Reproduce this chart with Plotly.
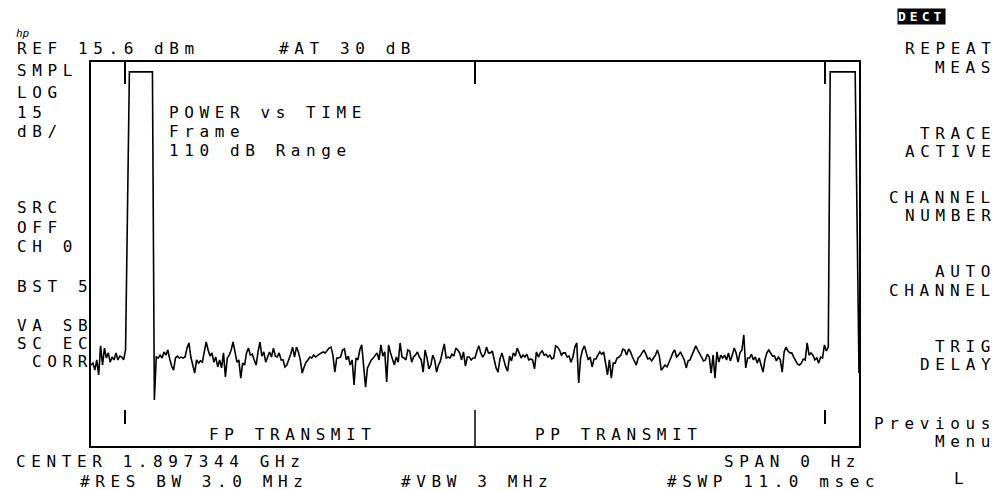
import numpy as np
import plotly.graph_objects as go

SWEEP_MS = 11.0          # #SWP 11.0 msec, span 0 Hz (time domain)
REF_DBM = 15.6           # REF 15.6 dBm
DB_PER_DIV = 15          # LOG 15 dB/
N_DIV = 8

# 401 trace points (dBm), left to right
level_dbm = [
    -79.1, -78.5, -80.7, -77.5, -82.2, -73.1, -79.1, -73.8, -76.9, -75.3,
    -78.2, -76.6, -77.5, -75.3, -77.5, -76.3, -76.6, -77.5, -74.4, -30.0,
    12.5, 12.5, 12.5, 12.5, 12.5, 12.5, 12.5, 12.5, 12.5, 12.5,
    12.5, 12.5, 12.5, -90.0, -76.6, -76.9, -76.0, -76.9, -75.0, -76.0,
    -74.4, -77.2, -79.4, -80.7, -76.9, -76.3, -76.9, -76.6, -76.9, -76.6,
    -73.8, -72.2, -76.6, -79.1, -81.6, -77.5, -78.5, -77.8, -78.2, -75.0,
    -71.9, -74.4, -76.3, -75.3, -78.2, -76.6, -79.7, -77.5, -80.0, -75.3,
    -82.8, -76.9, -76.0, -74.4, -71.9, -75.0, -78.2, -77.5, -83.2, -78.5,
    -79.1, -75.3, -73.8, -76.0, -75.7, -77.5, -79.1, -75.0, -71.9, -76.3,
    -75.0, -78.2, -76.3, -75.0, -76.6, -73.8, -76.3, -76.6, -75.3, -77.5,
    -77.5, -79.7, -79.1, -77.5, -75.7, -73.5, -76.6, -73.5, -75.0, -77.5,
    -81.6, -79.7, -78.2, -77.5, -76.6, -76.9, -76.0, -76.6, -76.0, -75.7,
    -75.3, -75.0, -75.3, -74.4, -73.8, -73.5, -76.0, -81.3, -76.9, -76.9,
    -76.6, -74.4, -74.1, -77.5, -76.3, -79.1, -77.5, -85.3, -76.9, -77.5,
    -74.4, -72.8, -79.1, -86.0, -80.0, -78.5, -77.5, -76.9, -76.0, -75.3,
    -77.5, -72.8, -76.3, -75.0, -84.4, -72.8, -75.3, -77.5, -79.1, -76.6,
    -78.2, -72.2, -76.6, -76.9, -77.5, -74.4, -74.7, -78.2, -76.6, -76.0,
    -75.0, -76.6, -77.5, -81.3, -74.4, -76.9, -80.3, -79.1, -76.0, -77.5,
    -81.3, -79.1, -77.8, -75.0, -72.5, -76.9, -76.6, -76.9, -75.7, -76.3,
    -73.8, -74.4, -75.3, -77.5, -75.0, -79.4, -76.6, -76.6, -77.5, -76.9,
    -76.9, -74.7, -73.1, -75.3, -76.6, -75.7, -73.5, -75.3, -75.3, -74.7,
    -77.5, -80.0, -81.3, -77.2, -75.3, -77.5, -79.7, -81.0, -76.3, -77.8,
    -75.3, -76.3, -73.8, -75.3, -76.9, -76.0, -76.6, -75.7, -77.5, -77.2,
    -77.5, -80.3, -75.0, -76.6, -75.3, -74.7, -76.0, -75.7, -76.6, -76.0,
    -77.2, -76.9, -73.1, -73.5, -74.4, -76.0, -75.3, -75.3, -76.6, -76.3,
    -78.2, -76.6, -73.5, -72.2, -84.7, -76.9, -74.4, -73.1, -75.7, -77.5,
    -76.6, -79.7, -77.2, -77.2, -76.0, -75.0, -75.7, -75.0, -78.5, -82.2,
    -77.5, -83.2, -78.5, -78.5, -76.9, -76.6, -76.0, -74.1, -74.4, -76.0,
    -74.1, -75.0, -76.6, -77.8, -79.1, -76.9, -76.3, -75.3, -74.4, -75.7,
    -77.2, -76.9, -77.8, -76.9, -76.0, -74.4, -76.3, -80.7, -79.7, -79.1,
    -79.7, -78.5, -76.9, -75.3, -74.4, -76.6, -76.0, -75.0, -76.3, -77.5,
    -80.0, -77.8, -77.5, -76.0, -74.4, -73.1, -74.4, -75.7, -76.9, -77.8,
    -77.5, -75.7, -76.6, -81.6, -76.0, -83.2, -75.0, -78.2, -76.0, -76.9,
    -76.0, -77.5, -75.3, -77.8, -76.0, -73.8, -75.3, -78.2, -75.3, -74.4,
    -69.7, -80.0, -76.9, -76.9, -75.7, -77.5, -76.6, -78.5, -76.9, -79.1,
    -81.3, -77.5, -75.3, -74.4, -75.3, -76.3, -76.3, -77.8, -76.6, -77.5,
    -81.3, -75.0, -73.5, -74.7, -75.3, -75.3, -76.6, -77.5, -78.8, -79.1,
    -78.5, -77.2, -77.5, -72.2, -76.0, -75.3, -76.0, -77.5, -76.9, -78.5,
    -76.6, -76.9, -72.8, -74.7, -73.5, 12.5, 12.5, 12.5, 12.5, 12.5,
    12.5, 12.5, 12.5, 12.5, 12.5, 12.5, 12.5, 12.5, 12.5, -33.8,
    -81.6,
]
# trace sample times: the analyzer's evenly spaced sweep points
time_ms = np.linspace(0.0, SWEEP_MS, len(level_dbm))

# slot / frame markers (ms)
marker_ms = [0.487, 5.5, 10.513]

ref_text = ["REF 15.6 dBm", "#AT 30 dB"]
left_text = ["SMPL", "LOG", "15", "dB/", "SRC", "OFF", "CH 0", "BST 5", "VA SB", "SC EC", "CORR"]
info_text = ["POWER vs TIME", "Frame", "110 dB Range"]
region_text = ["FP TRANSMIT", "PP TRANSMIT"]
bottom_text = ["CENTER 1.897344 GHz", "SPAN 0 Hz", "#RES BW 3.0 MHz", "#VBW 3 MHz", "#SWP 11.0 msec"]
softkeys = ["REPEAT", "MEAS", "TRACE", "ACTIVE", "CHANNEL", "NUMBER", "AUTO", "CHANNEL",
            "TRIG", "DELAY", "Previous", "Menu"]
mode_text = "DECT"

# ---------------- layout helpers ----------------
PAGE = 8                      # default body margin of the html page
W, H = 999 - PAGE, 490 - PAGE
# plot box in window pixels
BOX_L, BOX_R, BOX_T, BOX_B = 91, 859, 62, 446
L, R, T, B = BOX_L - PAGE, BOX_R - PAGE, BOX_T - PAGE, BOX_B - PAGE
FONT = "DejaVu Sans Mono"
LS = 5.6


def px(x):
    return (x - BOX_L) / (BOX_R - BOX_L)


def py(y):
    return (BOX_B - y) / (BOX_B - BOX_T)


def ann(text, x, y, anchor="left", size=16, ls=LS, color="black", **kw):
    return dict(text=f'<span style="letter-spacing:{ls}px">{text}</span>',
                xref="paper", yref="paper", x=px(x), y=py(y),
                xanchor=anchor, yanchor="middle", showarrow=False,
                font=dict(family=FONT, size=size, color=color), **kw)


fig = go.Figure()
fig.add_trace(go.Scatter(x=time_ms, y=level_dbm, mode="lines",
                         line=dict(color="black", width=1.6), hoverinfo="skip"))

annotations = []
annotations.append(ann("<i>hp</i>", 14, 33, size=11, ls=0))
annotations.append(ann(ref_text[0], 15, 48))
annotations.append(ann(ref_text[1], 277, 48))

left_y = [70, 92, 112, 131, 207, 227, 246, 286, 325, 343, 361]
for t, yy in zip(left_text, left_y):
    annotations.append(ann(t, 30 if t == "CORR" else 15, yy))

for t, yy in zip(info_text, [112.5, 131.5, 150]):
    annotations.append(ann(t, 166.5, yy))

annotations.append(ann(region_text[0], 206.5, 434))
annotations.append(ann(region_text[1], 533, 434))

bottom_pos = [(14, 461), (721.5, 461), (77.5, 481), (399, 481), (665, 481)]
for t, (xx, yy) in zip(bottom_text, bottom_pos):
    annotations.append(ann(t, xx, yy))

soft_y = [49, 67, 133, 151, 197, 215, 271, 290, 346, 364, 423, 441]
for t, yy in zip(softkeys, soft_y):
    annotations.append(ann(t, 998, yy, anchor="right"))
annotations.append(ann("L", 952, 478))

annotations.append(dict(text=f'<span style="letter-spacing:4px"><b>{mode_text}</b></span>',
                        xref="paper", yref="paper", x=px(921.5), y=py(16.5),
                        xanchor="center", yanchor="middle", showarrow=False,
                        bgcolor="black", borderpad=0,
                        font=dict(family=FONT, size=13, color="white")))

shapes = []
top_len = 22 / (BOX_B - BOX_T)
for m in marker_ms:
    shapes.append(dict(type="line", xref="x", yref="paper", x0=m, x1=m,
                       y0=1, y1=1 - top_len, line=dict(color="black", width=2)))
for m in marker_ms:
    if m == 5.5:
        y0, y1 = 36 / (BOX_B - BOX_T), 0
    else:
        y0, y1 = 36 / (BOX_B - BOX_T), 22 / (BOX_B - BOX_T)
    shapes.append(dict(type="line", xref="x", yref="paper", x0=m, x1=m,
                       y0=y0, y1=y1, line=dict(color="black", width=2 if m != 5.5 else 1.5)))

fig.update_layout(
    width=W, height=H, autosize=False,
    margin=dict(l=L, r=W - R, t=T, b=H - B, pad=0),
    paper_bgcolor="white", plot_bgcolor="white",
    showlegend=False,
    xaxis=dict(range=[0, SWEEP_MS], showticklabels=False, ticks="", showgrid=False,
               zeroline=False, showline=True, mirror=True, linecolor="black", linewidth=2),
    yaxis=dict(range=[REF_DBM - DB_PER_DIV * N_DIV, REF_DBM], showticklabels=False, ticks="",
               showgrid=False, zeroline=False, showline=True, mirror=True,
               linecolor="black", linewidth=2),
    annotations=annotations,
    shapes=shapes,
)

fig.write_html("out.html")
